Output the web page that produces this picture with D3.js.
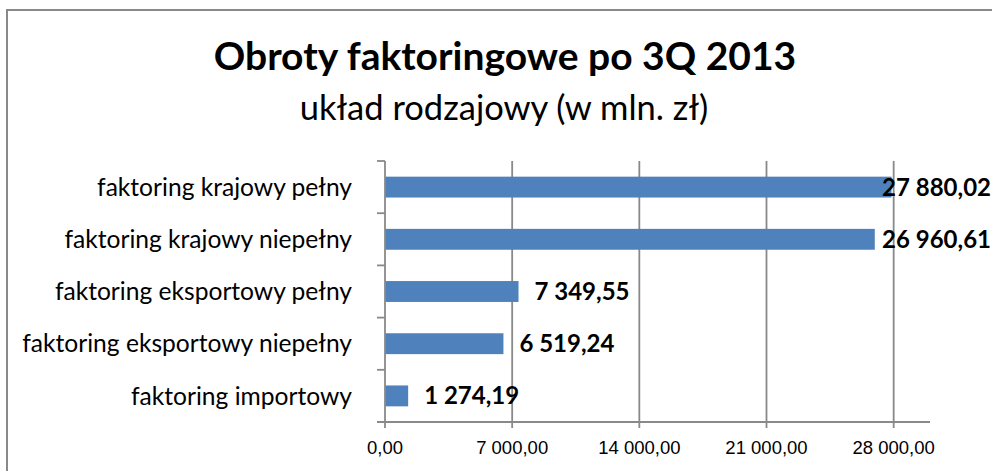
<!DOCTYPE html>
<html>
<head>
<meta charset="utf-8">
<script src="https://cdn.jsdelivr.net/npm/d3@7"></script>
<style>
  body { margin: 0; background: #fff; }
  svg { display: block; }
</style>
</head>
<body>
<div id="chart"></div>
<script>
// data
const categories = [
    "faktoring krajowy pełny",
    "faktoring krajowy niepełny",
    "faktoring eksportowy pełny",
    "faktoring eksportowy niepełny",
    "faktoring importowy"
];
const values = [27880.02, 26960.61, 7349.55, 6519.24, 1274.19];
const tickValues = [0, 7000, 14000, 21000, 28000];

const titleText = "Obroty faktoringowe po 3Q 2013";
const subtitleText = "układ rodzajowy (w mln. zł)";

const width = 992, height = 471;
const plot = { left: 385, right: 930, top: 161, bottom: 422 };
const gridColor = "#898989";
const barColor = "#4f81bd";
const font = "Lato, 'Noto Sans', sans-serif";

const pl = d3.formatLocale({ decimal: ",", thousands: " ", grouping: [3], currency: ["", ""] });
const fmt = pl.format(",.2f");

const svg = d3.select("#chart").append("svg")
    .attr("width", width)
    .attr("height", height);

svg.append("rect").attr("width", width).attr("height", height).attr("fill", "#fff");

// chart frame (right and bottom edges fall outside the picture)
svg.append("rect")
    .attr("x", 7).attr("y", 10)
    .attr("width", 1000).attr("height", 500)
    .attr("fill", "none")
    .attr("stroke", gridColor)
    .attr("stroke-width", 2);

// titles
svg.append("text")
    .attr("x", 505).attr("y", 70)
    .attr("text-anchor", "middle")
    .style("font-family", font)
    .style("font-weight", "bold")
    .style("font-size", "39px")
    .text(titleText);

svg.append("text")
    .attr("x", 504).attr("y", 120)
    .attr("text-anchor", "middle")
    .style("font-family", font)
    .style("font-size", "34.5px")
    .text(subtitleText);

const x = d3.scaleLinear().domain([0, 30000]).range([plot.left, plot.right]);
const y = d3.scaleBand().domain(categories).range([plot.top, plot.bottom])
    .paddingInner(0.6).paddingOuter(0.3);

const data = categories.map((c, i) => ({ name: c, value: values[i] }));

// vertical gridlines + tick marks below axis
const grid = svg.append("g").attr("class", "grid");
grid.selectAll("line").data(tickValues).enter().append("line")
    .attr("x1", d => x(d)).attr("x2", d => x(d))
    .attr("y1", d => d === 0 ? plot.bottom : plot.top)
    .attr("y2", plot.bottom + 6)
    .attr("stroke", gridColor)
    .attr("stroke-width", 1.8);

// bars
svg.append("g").selectAll("rect").data(data).enter().append("rect")
    .attr("x", x(0))
    .attr("y", d => y(d.name))
    .attr("width", d => x(d.value) - x(0))
    .attr("height", y.bandwidth())
    .attr("fill", barColor);

// category axis (left)
const step = y.step();
const boundaries = d3.range(categories.length + 1).map(i => plot.top + i * step);
const yAxis = svg.append("g");
yAxis.append("line")
    .attr("x1", plot.left).attr("x2", plot.left)
    .attr("y1", plot.top).attr("y2", plot.bottom)
    .attr("stroke", gridColor).attr("stroke-width", 1.8);
yAxis.selectAll("line.tick").data(boundaries).enter().append("line")
    .attr("class", "tick")
    .attr("x1", plot.left - 8).attr("x2", plot.left)
    .attr("y1", d => d).attr("y2", d => d)
    .attr("stroke", gridColor).attr("stroke-width", 1.8);
yAxis.selectAll("text").data(categories).enter().append("text")
    .attr("x", 352)
    .attr("y", d => y(d) + y.bandwidth() / 2)
    .attr("dy", "0.35em")
    .attr("text-anchor", "end")
    .style("font-family", font)
    .style("font-size", "24.6px")
    .text(d => d);

// value axis (bottom)
const xAxis = svg.append("g");
xAxis.append("line")
    .attr("x1", plot.left - 8).attr("x2", plot.right)
    .attr("y1", plot.bottom).attr("y2", plot.bottom)
    .attr("stroke", gridColor).attr("stroke-width", 1.8);
xAxis.selectAll("text").data(tickValues).enter().append("text")
    .attr("x", d => x(d))
    .attr("y", 448)
    .attr("dy", "0.35em")
    .attr("text-anchor", "middle")
    .style("font-family", "'Liberation Sans', Arial, sans-serif")
    .style("font-size", "18.5px")
    .text(d => fmt(d));

// value labels, kept inside the chart area
svg.append("g").selectAll("text").data(data).enter().append("text")
    .attr("y", d => y(d.name) + y.bandwidth() / 2)
    .attr("dy", "0.35em")
    .style("font-family", font)
    .style("font-weight", "bold")
    .style("font-size", "24px")
    .text(d => fmt(d.value))
    .attr("x", function (d) {
        const w = this.getComputedTextLength();
        return Math.min(x(d.value) + 16, 991 - w);
    });
</script>
</body>
</html>
